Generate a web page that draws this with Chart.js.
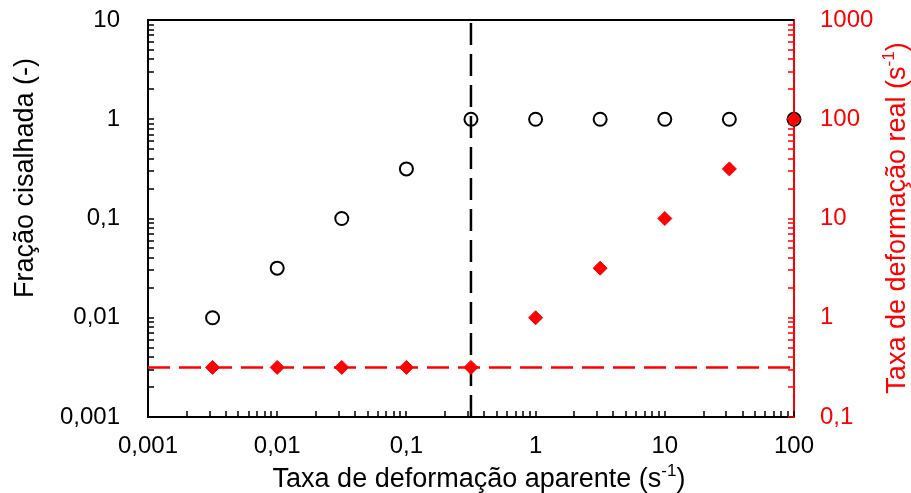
<!DOCTYPE html>
<html>
<head>
<meta charset="utf-8">
<script src="https://cdn.jsdelivr.net/npm/chart.js@4"></script>
<style>
  body { margin: 0; background: #fff; }
  #wrap { width: 911px; height: 493px; }
</style>
</head>
<body>
<div id="wrap"><canvas id="shearChart"></canvas></div>
<script>
// apparent strain rate (s^-1)
const apparentRate = [0.00316, 0.01, 0.0316, 0.1, 0.316, 1, 3.16, 10, 31.6, 100];
// sheared fraction (-), left axis
const shearedFraction = [0.01, 0.0316, 0.1, 0.316, 1, 1, 1, 1, 1, 1];
// real strain rate (s^-1), right axis
const realRate = [0.316, 0.316, 0.316, 0.316, 0.316, 1, 3.16, 10, 31.6, 100];

// reference lines
const criticalRate = 0.316;   // vertical black dashed
const baseRealRate = 0.316;   // horizontal red dashed

const xTicks = [0.001, 0.01, 0.1, 1, 10, 100];
const xTickLabels = ['0,001', '0,01', '0,1', '1', '10', '100'];
const yTicks = [0.001, 0.01, 0.1, 1, 10];
const yTickLabels = ['0,001', '0,01', '0,1', '1', '10'];
const y2Ticks = [0.1, 1, 10, 100, 1000];
const y2TickLabels = ['0,1', '1', '10', '100', '1000'];

const RED = '#ff0000';
const FONT = 'Liberation Sans, Arial, sans-serif';

function labelFor(ticks, labels) {
    return v => {
        const i = ticks.findIndex(t => Math.abs(t - v) / t < 1e-6);
        return i >= 0 ? labels[i] : '';
    };
}

// inward minor ticks (1..9 per decade) plus the top frame line
const frameTicks = {
    id: 'frameTicks',
    afterDatasetsDraw(chart) {
        const ctx = chart.ctx;
        const area = chart.chartArea;
        const len = 6;
        const each = (scale, fn) => {
            const lo = Math.floor(Math.log10(scale.min) + 1e-9);
            const hi = Math.ceil(Math.log10(scale.max) - 1e-9);
            for (let d = lo; d <= hi; d++) {
                for (let k = 1; k <= 9; k++) {
                    const v = k * Math.pow(10, d);
                    if (v < scale.min * 0.999 || v > scale.max * 1.001) continue;
                    fn(Math.round(scale.getPixelForValue(v)));
                }
            }
        };
        ctx.save();
        ctx.lineWidth = 1.5;

        ctx.strokeStyle = '#000';
        ctx.beginPath();
        each(chart.scales.x, px => { ctx.moveTo(px, area.bottom); ctx.lineTo(px, area.bottom - len); });
        each(chart.scales.y, py => { ctx.moveTo(area.left, py); ctx.lineTo(area.left + len, py); });
        ctx.stroke();

        ctx.strokeStyle = RED;
        ctx.beginPath();
        each(chart.scales.y2, py => { ctx.moveTo(area.right, py); ctx.lineTo(area.right - len, py); });
        ctx.stroke();

        ctx.strokeStyle = '#000';
        ctx.lineWidth = 2;
        ctx.beginPath();
        ctx.moveTo(area.left - 1, area.top);
        ctx.lineTo(area.right, area.top);
        ctx.stroke();
        ctx.restore();
    }
};

// draws text with an optional superscript part, centered on (0,0)
function drawRich(ctx, parts, size) {
    const supSize = Math.round(size * 0.62);
    let total = 0;
    const widths = parts.map(p => {
        ctx.font = (p.sup ? supSize : size) + 'px ' + FONT;
        const w = ctx.measureText(p.t).width;
        total += w;
        return w;
    });
    let x = -total / 2;
    ctx.textAlign = 'left';
    ctx.textBaseline = 'alphabetic';
    parts.forEach((p, i) => {
        ctx.font = (p.sup ? supSize : size) + 'px ' + FONT;
        ctx.fillText(p.t, x, p.sup ? size * 0.35 - size * 0.42 : size * 0.35);
        x += widths[i];
    });
}

const axisTitles = {
    id: 'axisTitles',
    afterDraw(chart) {
        const ctx = chart.ctx;
        ctx.save();
        ctx.fillStyle = '#000';
        ctx.translate(24, 178);
        ctx.rotate(-Math.PI / 2);
        drawRich(ctx, [{ t: 'Fração cisalhada (-)' }], 27);
        ctx.restore();

        ctx.save();
        ctx.fillStyle = '#000';
        ctx.translate(479, 478);
        drawRich(ctx, [{ t: 'Taxa de deformação aparente (s' }, { t: '-1', sup: true }, { t: ')' }], 27);
        ctx.restore();

        ctx.save();
        ctx.fillStyle = RED;
        ctx.translate(896, 218);
        ctx.rotate(-Math.PI / 2);
        drawRich(ctx, [{ t: 'Taxa de deformação real (s' }, { t: '-1', sup: true }, { t: ')' }], 27);
        ctx.restore();
    }
};

const tickFont = { family: FONT, size: 24 };

// keep the plot frame fixed: no extra room for overhanging labels
function noOverhang(s) {
    s.paddingTop = 0;
    s.paddingBottom = 0;
    s.paddingLeft = 0;
    s.paddingRight = 0;
}

new Chart(document.getElementById('shearChart'), {
    type: 'scatter',
    data: {
        datasets: [
            {
                label: 'Taxa de deformação real',
                data: apparentRate.map((x, i) => ({ x: x, y: realRate[i] })),
                yAxisID: 'y2',
                pointStyle: 'rectRot',
                pointRadius: 7,
                pointBackgroundColor: RED,
                pointBorderColor: RED,
                pointBorderWidth: 1,
                clip: false
            },
            {
                label: 'Fração cisalhada',
                data: apparentRate.map((x, i) => ({ x: x, y: shearedFraction[i] })),
                yAxisID: 'y',
                pointStyle: 'circle',
                pointRadius: 6.5,
                pointBackgroundColor: 'rgba(0,0,0,0)',
                pointBorderColor: '#000',
                pointBorderWidth: 2,
                clip: false
            },
            {
                data: [{ x: criticalRate, y: 0.001 }, { x: criticalRate, y: 10 }],
                yAxisID: 'y',
                showLine: true,
                borderColor: '#000',
                borderWidth: 2.5,
                borderDash: [22, 9],
                pointRadius: 0
            },
            {
                data: [{ x: 0.001, y: baseRealRate }, { x: 100, y: baseRealRate }],
                yAxisID: 'y2',
                showLine: true,
                borderColor: RED,
                borderWidth: 2.5,
                borderDash: [22, 9],
                pointRadius: 0
            }
        ]
    },
    options: {
        responsive: true,
        maintainAspectRatio: false,
        animation: false,
        layout: { padding: { top: 20, left: 0, right: 0, bottom: 0 } },
        plugins: { legend: { display: false }, tooltip: { enabled: false } },
        scales: {
            x: {
                type: 'logarithmic',
                position: 'bottom',
                min: 0.001,
                max: 100,
                afterBuildTicks: s => { s.ticks = xTicks.map(v => ({ value: v })); },
                afterFit: s => { s.height = 76; noOverhang(s); },
                ticks: {
                    callback: labelFor(xTicks, xTickLabels),
                    font: tickFont, color: '#000', padding: 15,
                    autoSkip: false, maxRotation: 0
                },
                grid: { display: false, drawTicks: false },
                border: { color: '#000', width: 2 }
            },
            y: {
                type: 'logarithmic',
                position: 'left',
                min: 0.001,
                max: 10,
                afterBuildTicks: s => { s.ticks = yTicks.map(v => ({ value: v })); },
                afterFit: s => { s.width = 148; noOverhang(s); },
                ticks: {
                    callback: labelFor(yTicks, yTickLabels),
                    font: tickFont, color: '#000', padding: 28, autoSkip: false
                },
                grid: { display: false, drawTicks: false },
                border: { color: '#000', width: 2 }
            },
            y2: {
                type: 'logarithmic',
                position: 'right',
                min: 0.1,
                max: 1000,
                afterBuildTicks: s => { s.ticks = y2Ticks.map(v => ({ value: v })); },
                afterFit: s => { s.width = 117; noOverhang(s); },
                ticks: {
                    callback: labelFor(y2Ticks, y2TickLabels),
                    font: tickFont, color: RED, padding: 26, autoSkip: false
                },
                grid: { display: false, drawTicks: false },
                border: { color: RED, width: 2 }
            }
        }
    },
    plugins: [frameTicks, axisTitles]
});
</script>
</body>
</html>
